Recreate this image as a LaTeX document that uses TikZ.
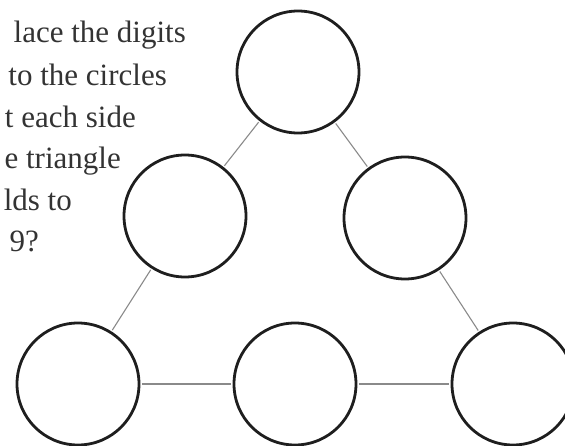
\documentclass[tikz,border=0pt]{standalone}
\usepackage{fontspec}
\setmainfont{Liberation Serif}
\begin{document}
\begin{tikzpicture}[x=1pt,y=-1pt,
  ring/.style={circle,draw=ringcol,line width=2.8pt,minimum size=122pt,inner sep=0pt},
  link/.style={draw=linkcol,line width=1.1pt},
  txt/.style={anchor=base east,inner sep=0pt,text=textcol,font=\fontsize{31}{42}\selectfont}]
\definecolor{ringcol}{HTML}{1E1E1E}
\definecolor{linkcol}{HTML}{8A8A8A}
\definecolor{textcol}{HTML}{333333}
\useasboundingbox (0,0) rectangle (565,446);
\clip (0,0) rectangle (565,446);
% text
\node[txt] (l1) at (186,43) {lace the digits};
\node[txt] (l2) at (167,86) {to the circles};
\node[txt] (l3) at (136,128) {t each side};
\node[txt] (l4) at (121,169) {e triangle};
\node[txt] (l5) at (72,211) {lds to};
\node[txt] (l6) at (39,252) {9?};
% circles
\node[ring] (t) at (298,72) {};
\node[ring] (ml) at (185,216) {};
\node[ring] (mr) at (405,218) {};
\node[ring] (bl) at (78,384) {};
\node[ring] (bm) at (295,384) {};
\node[ring] (br) at (513,384) {};
% connectors
\draw[link,shorten <=1.4pt,shorten >=1.4pt] (t) -- (ml);
\draw[link,shorten <=1.4pt,shorten >=1.4pt] (t) -- (mr);
\draw[link,shorten <=1.4pt,shorten >=1.4pt] (ml) -- (bl);
\draw[link,shorten <=1.4pt,shorten >=1.4pt] (mr) -- (br);
\draw[link,shorten <=1.4pt,shorten >=1.4pt] (bl) -- (bm);
\draw[link,shorten <=1.4pt,shorten >=1.4pt] (bm) -- (br);
\end{tikzpicture}
\end{document}
